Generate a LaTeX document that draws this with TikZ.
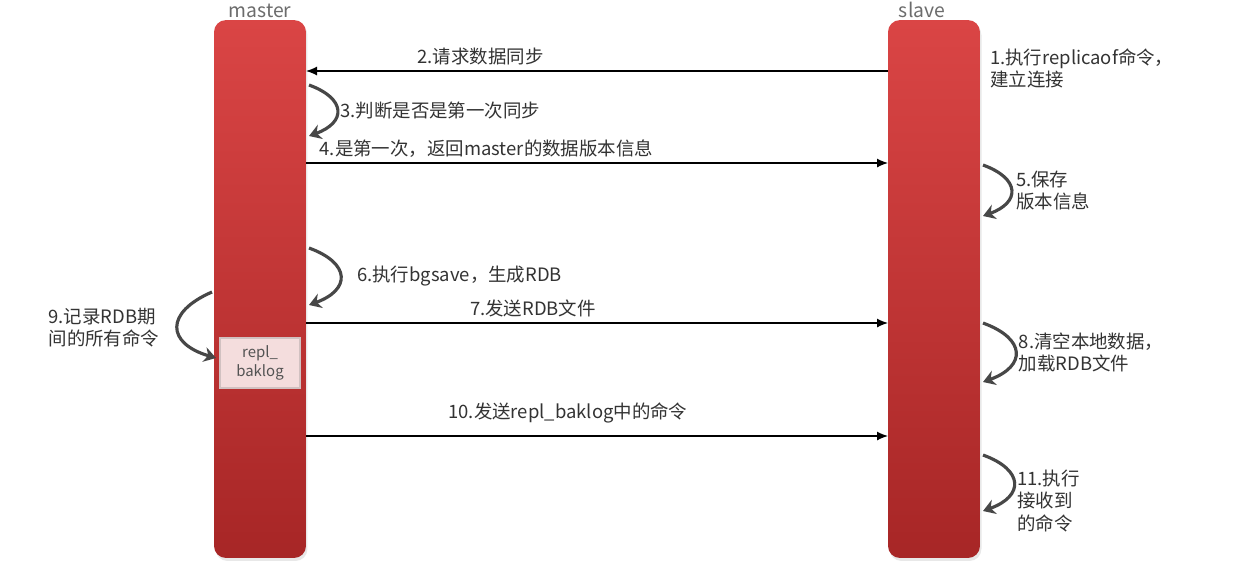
\documentclass[tikz,border=0pt]{standalone}
\usepackage{fontspec}
\setmainfont{Noto Sans CJK SC}
\usetikzlibrary{arrows.meta, positioning, shadows}
\definecolor{barTop}{HTML}{DA4545}
\definecolor{barBot}{HTML}{A72626}
\definecolor{txt}{HTML}{333333}
\definecolor{loopc}{HTML}{474747}
\definecolor{logfill}{HTML}{F4DDDD}
\tikzset{
  bar/.style={rectangle, rounded corners=0.24cm, minimum width=1.84cm, minimum height=10.76cm, top color=barTop, bottom color=barBot, draw=none, drop shadow={opacity=0.18, shadow xshift=0.03cm, shadow yshift=-0.06cm}},
  role/.style={text=gray!85!black, font=\fontsize{11}{13}\selectfont, inner sep=0pt},
  msgtxt/.style={text=txt, font=\fontsize{10.5}{12.6}\selectfont, inner sep=1pt, align=left},
  msg/.style={-{Latex[length=2.2mm,width=1.8mm]}, line width=0.7pt, black},
  selfloop/.style={-{Stealth[length=2.4mm,width=3mm]}, line width=1.8pt, loopc},
  logbox/.style={rectangle, minimum width=1.6cm, minimum height=1cm, fill=logfill, draw=logfill!70!gray, line width=0.8pt, align=center, text=gray!65!black, font=\fontsize{8.5}{11}\selectfont}
}
\begin{document}
\begin{tikzpicture}[x=0.02cm, y=-0.02cm]
  \fill[white] (0,0) rectangle (1257,583);
  \useasboundingbox (0,0) rectangle (1257,583);

  \node (master) [bar] at (260,289) {};
  \node (slave) [bar] at (934,289) {};
  \node (mname) [role, anchor=base] at (260,17) {master};
  \node (sname) [role, anchor=base] at (922,17) {slave};
  \node (log) [logbox] at (260,363) {repl\_\\baklog};

  \coordinate (m2) at (306,71);
  \coordinate (s2) at (888,71);
  \coordinate (m4) at (306,163);
  \coordinate (s4) at (888,163);
  \coordinate (m7) at (306,323);
  \coordinate (s7) at (888,323);
  \coordinate (m10) at (306,436);
  \coordinate (s10) at (888,436);

  \coordinate (m3a) at (309,85);
  \coordinate (m3b) at (309,136);
  \coordinate (s5a) at (983,165);
  \coordinate (s5b) at (983,216);
  \coordinate (m6a) at (309,248);
  \coordinate (m6b) at (309,305);
  \coordinate (s8a) at (983,323);
  \coordinate (s8b) at (983,382);
  \coordinate (m9a) at (212,292);
  \coordinate (m9b) at (216,358);
  \coordinate (s11a) at (983,455);
  \coordinate (s11b) at (983,511);

  \node (t1) [msgtxt, anchor=north west] at (988,47) {1.执行replicaof命令，\\建立连接};

  \draw [msg] (s2) -- node[msgtxt, above=2pt, pos=0.7] {2.请求数据同步} (m2);
  \draw [selfloop] (m3a) to[bend left=70, looseness=2] node[msgtxt, right=0pt] {3.判断是否是第一次同步} (m3b);
  \draw [msg] (m4) -- node[msgtxt, above=2pt, pos=0.31] {4.是第一次，返回master的数据版本信息} (s4);
  \draw [selfloop] (s5a) to[bend left=70, looseness=2] node[msgtxt, right=1pt] {5.保存\\版本信息} (s5b);
  \draw [selfloop] (m6a) to[bend left=70, looseness=2] node[msgtxt, right=0.27cm] {6.执行bgsave，生成RDB} (m6b);
  \draw [msg] (m7) -- node[msgtxt, above=2pt, pos=0.39] {7.发送RDB文件} (s7);
  \draw [selfloop] (s8a) to[bend left=70, looseness=2] node[msgtxt, right=0pt] {8.清空本地数据，\\加载RDB文件} (s8b);
  \draw [selfloop] (m9a) to[bend right=70, looseness=2] node[msgtxt, left=0.3cm] {9.记录RDB期\\间的所有命令} (m9b);
  \draw [msg] (m10) -- node[msgtxt, above=6pt, pos=0.45] {10.发送repl\_baklog中的命令} (s10);
  \draw [selfloop] (s11a) to[bend left=70, looseness=2] node[msgtxt, right=0pt, yshift=-0.36cm] {11.执行\\接收到\\的命令} (s11b);

\end{tikzpicture}
\end{document}
